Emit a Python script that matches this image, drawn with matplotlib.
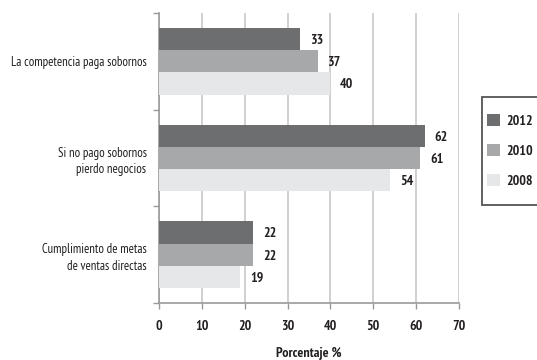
import matplotlib
matplotlib.use("Agg")
import matplotlib.pyplot as plt
from matplotlib.patches import Patch, Rectangle
import numpy as np

categories = ["La competencia paga sobornos",
              "Si no pago sobornos\npierdo negocios",
              "Cumplimiento de metas\nde ventas directas"]
series_names = ["2012", "2010", "2008"]
values_2012 = [33, 62, 22]
values_2010 = [37, 61, 22]
values_2008 = [40, 54, 19]
series_values = [values_2012, values_2010, values_2008]
colors = ["#6d6e70", "#a7a8aa", "#e6e7e8"]
x_ticks = [0, 10, 20, 30, 40, 50, 60, 70]
x_label = "Porcentaje %"

plt.rcParams['font.family'] = ['PT Sans Narrow', 'DejaVu Sans']
txt_col = "#231f20"
fs = 10

fig = plt.figure(figsize=(5.37, 3.6), dpi=100)
ax = fig.add_axes([159/537, 1-303/360, 300/537, 290/360])

bar_h = 0.23
offsets = [-bar_h, 0, bar_h]
centers = np.arange(len(categories)) + 0.5
for vals, off, col, name in zip(series_values, offsets, colors, series_names):
    bars = ax.barh(centers + off, vals, height=bar_h, color=col, label=name, zorder=3)
    for b, v in zip(bars, vals):
        ax.annotate(str(v), (b.get_width(), b.get_y() + b.get_height()/2),
                    xytext=(7, -1), textcoords="offset points",
                    va="center", ha="left", fontsize=fs, fontweight="bold",
                    color=txt_col)

ax.set_xlim(0, 70)
ax.set_ylim(3, 0)
ax.set_xticks(x_ticks)
ax.set_xticklabels([str(t) for t in x_ticks], fontsize=fs, fontweight="bold", color=txt_col)
ax.set_yticks([0, 1, 2, 3])
ax.set_yticklabels([])
ax.set_yticks(centers, minor=True)
ax.set_yticklabels(categories, minor=True, fontsize=9.2, color=txt_col, linespacing=1.4)
ax.tick_params(axis="y", which="minor", length=0, pad=9)
ax.tick_params(axis="y", which="major", length=4, color="#9a9a9a", width=1)
ax.tick_params(axis="x", length=4, color="#9a9a9a", width=1, pad=8)

ax.grid(axis="x", color="#c8c8c8", linewidth=1.2, zorder=0)
for s in ["top", "right"]:
    ax.spines[s].set_visible(False)
for s in ["left", "bottom"]:
    ax.spines[s].set_color("#9a9a9a")
    ax.spines[s].set_linewidth(1.2)

ax.set_xlabel(x_label, fontsize=fs, fontweight="bold", color=txt_col, labelpad=10)

# legend frame (runs past the right edge, as in the reference)
fig.patches.append(Rectangle((482/537, 1-205/360), 80/537, 108/360,
                             transform=fig.transFigure, facecolor="white",
                             edgecolor="#555555", linewidth=1.3, zorder=1))
handles = [Patch(facecolor=c, edgecolor="none") for c in colors]
leg = fig.legend(handles, series_names, loc="upper left",
                 bbox_to_anchor=(487/537, 1-114/360), frameon=False,
                 fontsize=fs, handlelength=0.9, handleheight=0.9, handletextpad=0.45,
                 labelspacing=1.2, borderpad=0, borderaxespad=0)
leg.set_zorder(2)
for t in leg.get_texts():
    t.set_fontweight("bold")
    t.set_color(txt_col)

fig.savefig("out.png", dpi=100)
